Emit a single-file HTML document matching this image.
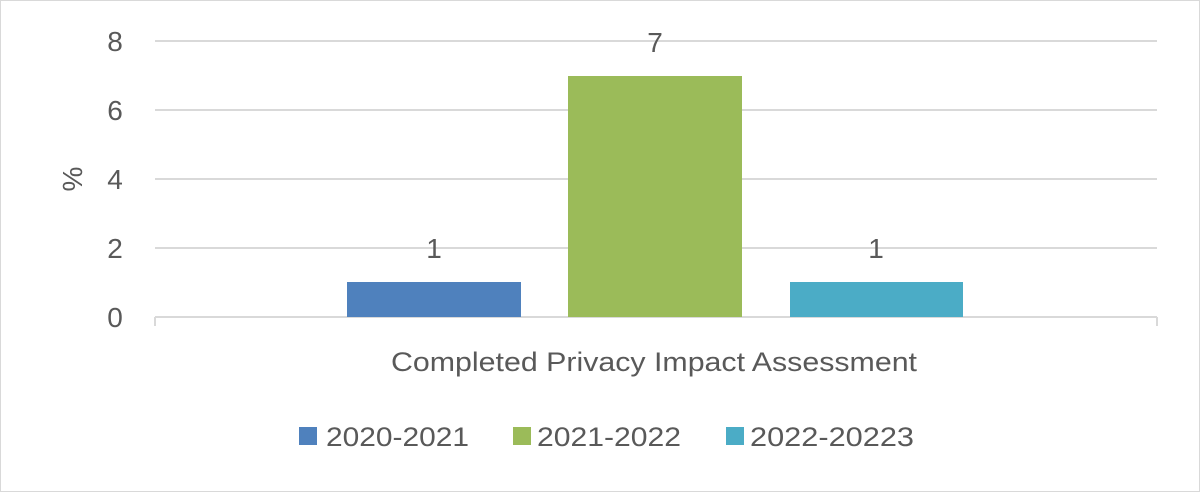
<!DOCTYPE html>
<html><head><meta charset="utf-8"><style>
html,body{margin:0;padding:0;background:#fff;}
svg{display:block;}
text{font-family:"Liberation Sans",sans-serif;fill:#595959;}
</style></head><body>
<svg width="1200" height="492" viewBox="0 0 1200 492" xmlns="http://www.w3.org/2000/svg">
<rect x="0.5" y="0.5" width="1199" height="491" fill="#fff" stroke="#d9d9d9" stroke-width="1"/>
<g stroke="#d9d9d9" stroke-width="2">
<line x1="155" y1="41" x2="1157" y2="41"/>
<line x1="155" y1="110" x2="1157" y2="110"/>
<line x1="155" y1="179" x2="1157" y2="179"/>
<line x1="155" y1="248" x2="1157" y2="248"/>
<line x1="155" y1="317" x2="1157" y2="317"/>
<line x1="155" y1="317" x2="155" y2="326"/>
<line x1="1157" y1="317" x2="1157" y2="326"/>
</g>
<g font-size="28" text-anchor="middle">
<text x="115" y="51">8</text>
<text x="115" y="120">6</text>
<text x="115" y="189">4</text>
<text x="115" y="258">2</text>
<text x="115" y="327">0</text>
</g>
<text x="0" y="0" font-size="28" text-anchor="middle" transform="translate(82,179) rotate(-90)">%</text>
<rect x="347" y="282" width="174" height="35" fill="#4f81bd"/>
<rect x="568" y="76" width="174" height="241" fill="#9bbb59"/>
<rect x="790" y="282" width="173" height="35" fill="#4bacc6"/>
<g font-size="28" text-anchor="middle">
<text x="434" y="258">1</text>
<text x="655" y="52">7</text>
<text x="876" y="258">1</text>
</g>
<text x="391" y="371" font-size="27" textLength="526" lengthAdjust="spacingAndGlyphs">Completed Privacy Impact Assessment</text>
<rect x="299" y="427" width="18" height="18" fill="#4f81bd"/>
<rect x="513" y="427" width="18" height="18" fill="#9bbb59"/>
<rect x="726" y="427" width="18" height="18" fill="#4bacc6"/>
<g font-size="27">
<text x="326" y="446" textLength="143" lengthAdjust="spacingAndGlyphs">2020-2021</text>
<text x="537" y="446" textLength="144" lengthAdjust="spacingAndGlyphs">2021-2022</text>
<text x="750" y="446" textLength="164" lengthAdjust="spacingAndGlyphs">2022-20223</text>
</g>
</svg>
</body></html>
